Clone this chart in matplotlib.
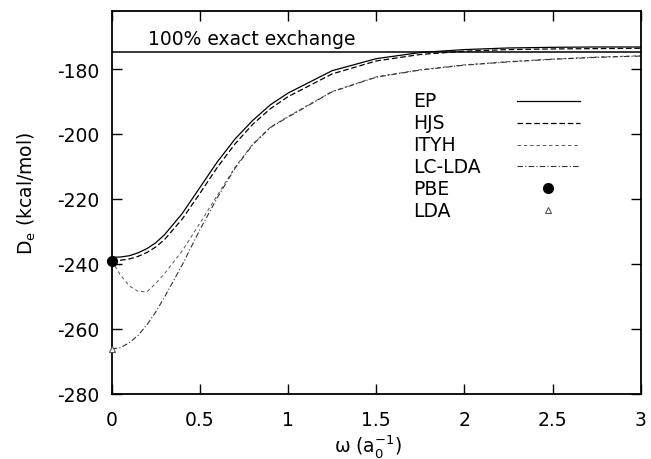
import numpy as np
import matplotlib
matplotlib.use("Agg")
import matplotlib.pyplot as plt

plt.rcParams['font.family'] = ['DejaVu Sans']
plt.rcParams['axes.unicode_minus'] = False
plt.rcParams['mathtext.fontset'] = 'dejavusans'

# Datos
omega = [0.0, 0.05, 0.1, 0.15, 0.2, 0.25, 0.3, 0.4, 0.5, 0.6, 0.7, 0.8, 0.9,
         1.0, 1.25, 1.5, 1.75, 2.0, 2.25, 2.5, 2.75, 3.0]
ep = [-238.0, -237.9, -237.5, -236.6, -235.3, -233.5, -231.0, -224.5, -216.5,
      -208.5, -201.5, -195.8, -191.0, -187.4, -180.5, -176.8, -174.9, -174.0,
      -173.5, -173.3, -173.2, -173.2]
hjs = [-239.0, -238.9, -238.5, -237.7, -236.5, -234.8, -232.5, -226.2, -218.3,
       -210.2, -203.0, -197.0, -192.2, -188.5, -181.5, -177.5, -175.5, -174.5,
       -174.0, -173.8, -173.7, -173.6]
ityh = [-239.0, -243.5, -246.8, -248.5, -248.6, -246.0, -243.0, -236.0, -227.5,
        -218.8, -210.2, -203.1, -197.9, -194.6, -186.9, -182.4, -180.2, -178.7,
        -177.7, -176.9, -176.3, -175.9]
lc_lda = [-266.3, -265.8, -264.3, -262.0, -258.8, -254.8, -250.2, -240.3, -229.5,
          -219.5, -210.5, -203.3, -198.0, -194.8, -187.0, -182.5, -180.3, -178.8,
          -177.8, -177.0, -176.4, -176.0]
pbe_val = -239.0
lda_val = -266.3
exact_exchange = -174.6

xticks = [0, 0.5, 1, 1.5, 2, 2.5, 3]
xtick_labels = ["0", "0.5", "1", "1.5", "2", "2.5", "3"]
yticks = [-280, -260, -240, -220, -200, -180]

fs = 13.5

fig = plt.figure(figsize=(6.51, 4.60), dpi=100)
ax = fig.add_axes([0.1716, 0.142, 0.8126, 0.8313])

# Curvas
styles = {
    "EP": dict(color="black", lw=0.9, ls="-"),
    "HJS": dict(color="black", lw=0.9, ls=(0, (4.5, 2.2))),
    "ITYH": dict(color="#555555", lw=0.7, ls=(0, (3.5, 3.0))),
    "LC-LDA": dict(color="#333333", lw=0.8, ls=(0, (5, 2, 1, 2))),
}
series = {"EP": ep, "HJS": hjs, "ITYH": ityh, "LC-LDA": lc_lda}
for name, vals in series.items():
    ax.plot(omega, vals, **styles[name])

ax.axhline(exact_exchange, color="black", lw=1.1)
ax.text(0.205, exact_exchange + 2.3, "100% exact exchange", fontsize=fs,
        ha="left", va="baseline")

ax.plot([0], [pbe_val], "o", color="black", ms=7, clip_on=False, zorder=5)
ax.plot([0], [lda_val], "^", mfc="white", mec="#555555", mew=0.8, ms=5,
        clip_on=False, zorder=5)

# Leyenda manual (texto a la izquierda, muestra a la derecha)
labels = ["EP", "HJS", "ITYH", "LC-LDA", "PBE", "LDA"]
y0 = 0.766
dy = 0.0573
for i, lab in enumerate(labels):
    yy = y0 - i * dy
    ax.text(0.5696, yy, lab, transform=ax.transAxes, fontsize=fs,
            ha="left", va="center")
    if lab in styles:
        ax.plot([0.766, 0.885], [yy, yy], transform=ax.transAxes, **styles[lab])
    elif lab == "PBE":
        ax.plot([0.825], [yy], "o", color="black", ms=7, transform=ax.transAxes)
    else:
        ax.plot([0.825], [yy], "^", mfc="white", mec="#555555", mew=0.8, ms=5,
                transform=ax.transAxes)

ax.set_xlim(0, 3)
ax.set_ylim(-280, -162.2)
ax.set_xticks(xticks)
ax.set_xticklabels(xtick_labels)
ax.set_yticks(yticks)
ax.set_yticklabels([str(v) for v in yticks])
ax.tick_params(direction="in", length=7, width=1.0, top=True, right=True,
               labelsize=fs)
ax.tick_params(axis="x", pad=12)
ax.tick_params(axis="y", pad=9)
for sp in ax.spines.values():
    sp.set_linewidth(1.3)

ax.set_xlabel("ω (a$_0^{-1}$)", fontsize=fs)
ax.set_ylabel(r"D$_\mathrm{e}$ (kcal/mol)", fontsize=fs)
ax.xaxis.set_label_coords(0.485, -0.1)
ax.yaxis.set_label_coords(-0.14, 0.527)

fig.savefig("out.png", dpi=100)
